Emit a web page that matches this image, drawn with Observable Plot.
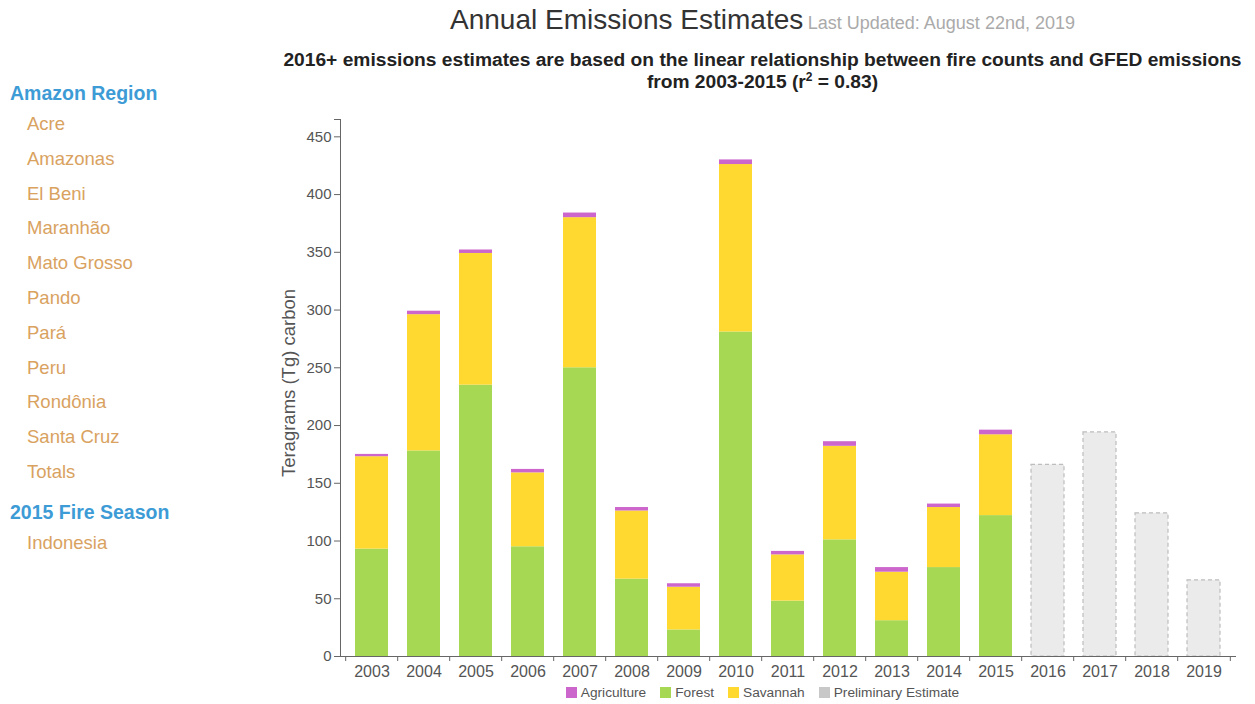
<!DOCTYPE html>
<html>
<head>
<meta charset="utf-8">
<script src="https://cdn.jsdelivr.net/npm/d3@7"></script>
<script src="https://cdn.jsdelivr.net/npm/@observablehq/plot@0.6"></script>
<style>
  html, body { margin: 0; padding: 0; background: #fff; }
  body { width: 1255px; height: 704px; position: relative; overflow: hidden; font-family: "Liberation Sans", Arial, sans-serif; }
  #side { position: absolute; left: 0; top: 0; }
  .hdr { position: absolute; left: 10px; font-size: 19.5px; line-height: 20px; font-weight: bold; color: #3d9bd6; white-space: nowrap; }
  .itm { position: absolute; left: 27px; font-size: 18.5px; line-height: 20px; color: #d9a25f; white-space: nowrap; }
  #title { position: absolute; left: 270px; width: 985px; top: 5px; text-align: center; white-space: nowrap; line-height: 30px; }
  #title .main { font-size: 28px; color: #333; }
  #title .upd { font-size: 18px; color: #aaa; }
  #sub { position: absolute; left: 270px; width: 985px; top: 49px; text-align: center; font-size: 19.2px; font-weight: bold; color: #222; line-height: 22px; white-space: nowrap; }
  #chart { position: absolute; left: 270px; top: 100px; }
  #ylab { position: absolute; left: 289px; top: 383px; transform: translate(-50%, -50%) rotate(-90deg); font-size: 18.5px; color: #555; white-space: nowrap; }
  #legend { position: absolute; left: 270px; width: 985px; top: 685px; text-align: center; font-size: 13.7px; line-height: 16px; color: #555; white-space: nowrap; }
  #legend span.sw { display: inline-block; width: 11px; height: 11px; margin-right: 4px; vertical-align: -1px; }
  #legend span.it { margin: 0 7px; }
</style>
</head>
<body>
<div id="side"></div>
<div id="title"><span class="main">Annual Emissions Estimates</span> <span class="upd">Last Updated: August 22nd, 2019</span></div>
<div id="sub">2016+ emissions estimates are based on the linear relationship between fire counts and GFED emissions<br>from 2003-2015 (r<sup style="font-size:12px;line-height:0">2</sup> = 0.83)</div>
<div id="chart"></div>
<div id="ylab">Teragrams (Tg) carbon</div>
<div id="legend"></div>
<script>
// ---- data ----
const years = ["2003","2004","2005","2006","2007","2008","2009","2010","2011","2012","2013","2014","2015"];
const forest = [93, 178, 235, 95, 250, 67, 23, 281, 48, 101, 31, 77, 122];
const savannah = [80, 118, 114, 64, 130, 59, 37, 145, 40, 81, 42, 52, 70];
const agriculture = [2, 3, 3, 3, 4, 3, 3, 4, 3, 4, 4, 3, 4];
const prelimYears = ["2016","2017","2018","2019"];
const prelim = [166, 194, 124, 66];
const yTicks = [0, 50, 100, 150, 200, 250, 300, 350, 400, 450];
const seriesNames = ["Forest", "Savannah", "Agriculture"];
const seriesColors = ["#a6d854", "#ffd92f", "#cc66cc"];
const legendNames = ["Agriculture", "Forest", "Savannah", "Preliminary Estimate"];
const legendColors = ["#cc66cc", "#a6d854", "#ffd92f", "#c8c8c8"];
const sideGroups = [
  {title: "Amazon Region", items: ["Acre","Amazonas","El Beni","Maranhão","Mato Grosso","Pando","Pará","Peru","Rondônia","Santa Cruz","Totals"]},
  {title: "2015 Fire Season", items: ["Indonesia"]}
];

// ---- sidebar ----
const side = document.getElementById("side");
let yPos = 93;
sideGroups.forEach(g => {
  const h = document.createElement("div"); h.className = "hdr"; h.textContent = g.title; h.style.top = (yPos - 10) + "px";
  side.appendChild(h); yPos += 31;
  g.items.forEach(it => {
    const d = document.createElement("div"); d.className = "itm"; d.textContent = it; d.style.top = (yPos - 10) + "px";
    side.appendChild(d); yPos += 34.8;
  });
  yPos += 5;
});

// ---- legend ----
const leg = document.getElementById("legend");
legendNames.forEach((n, i) => {
  const s = document.createElement("span"); s.className = "it";
  s.innerHTML = `<span class="sw" style="background:${legendColors[i]}"></span>${n}`;
  leg.appendChild(s);
});

// ---- chart ----
const rows = [];
years.forEach((y, i) => {
  rows.push({year: y, type: "Forest", value: forest[i]});
  rows.push({year: y, type: "Savannah", value: savannah[i]});
  rows.push({year: y, type: "Agriculture", value: agriculture[i]});
});
const prelimRows = prelimYears.map((y, i) => ({year: y, value: prelim[i]}));
const allYears = [...years, ...prelimYears];

const W = 985, H = 580, ML = 70, MR = 20, MT = 19, MB = 24;
const step = (W - ML - MR) / allYears.length;
const axisColor = "#666";

const plot = Plot.plot({
  width: W, height: H,
  marginLeft: ML, marginRight: MR, marginTop: MT, marginBottom: MB,
  style: {fontFamily: "'Liberation Sans', Arial, sans-serif", fontSize: "15px", color: "#555", background: "transparent"},
  x: {type: "band", domain: allYears, paddingInner: 0.37, paddingOuter: 0.185, label: null},
  y: {domain: [0, 465], label: null},
  color: {domain: seriesNames, range: seriesColors},
  marks: [
    Plot.barY(rows, {x: "year", y: "value", fill: "type", order: seriesNames}),
    Plot.barY(prelimRows, {x: "year", y: "value", fill: "#ebebeb", stroke: "#bdbdbd", strokeDasharray: "4,3", strokeWidth: 1.2}),
    Plot.frame({anchor: "left", stroke: axisColor}),
    Plot.frame({anchor: "bottom", stroke: axisColor}),
    Plot.axisY({ticks: yTicks, tickSize: 6, tickPadding: 3, fontSize: 15, label: null, stroke: axisColor}),
    Plot.axisY({ticks: [465], tickSize: 6, tickFormat: () => "", label: null, stroke: axisColor}),
    Plot.axisX({tickSize: 0, tickPadding: 9, fontSize: 16, label: null}),
    Plot.ruleX(allYears, {x: d => d, y1: 0, y2: 0, insetBottom: -5, dx: -step / 2, stroke: axisColor}),
    Plot.ruleX([allYears[allYears.length - 1]], {x: d => d, y1: 0, y2: 0, insetBottom: -5, dx: step / 2, stroke: axisColor})
  ]
});
document.getElementById("chart").appendChild(plot);
</script>
</body>
</html>
